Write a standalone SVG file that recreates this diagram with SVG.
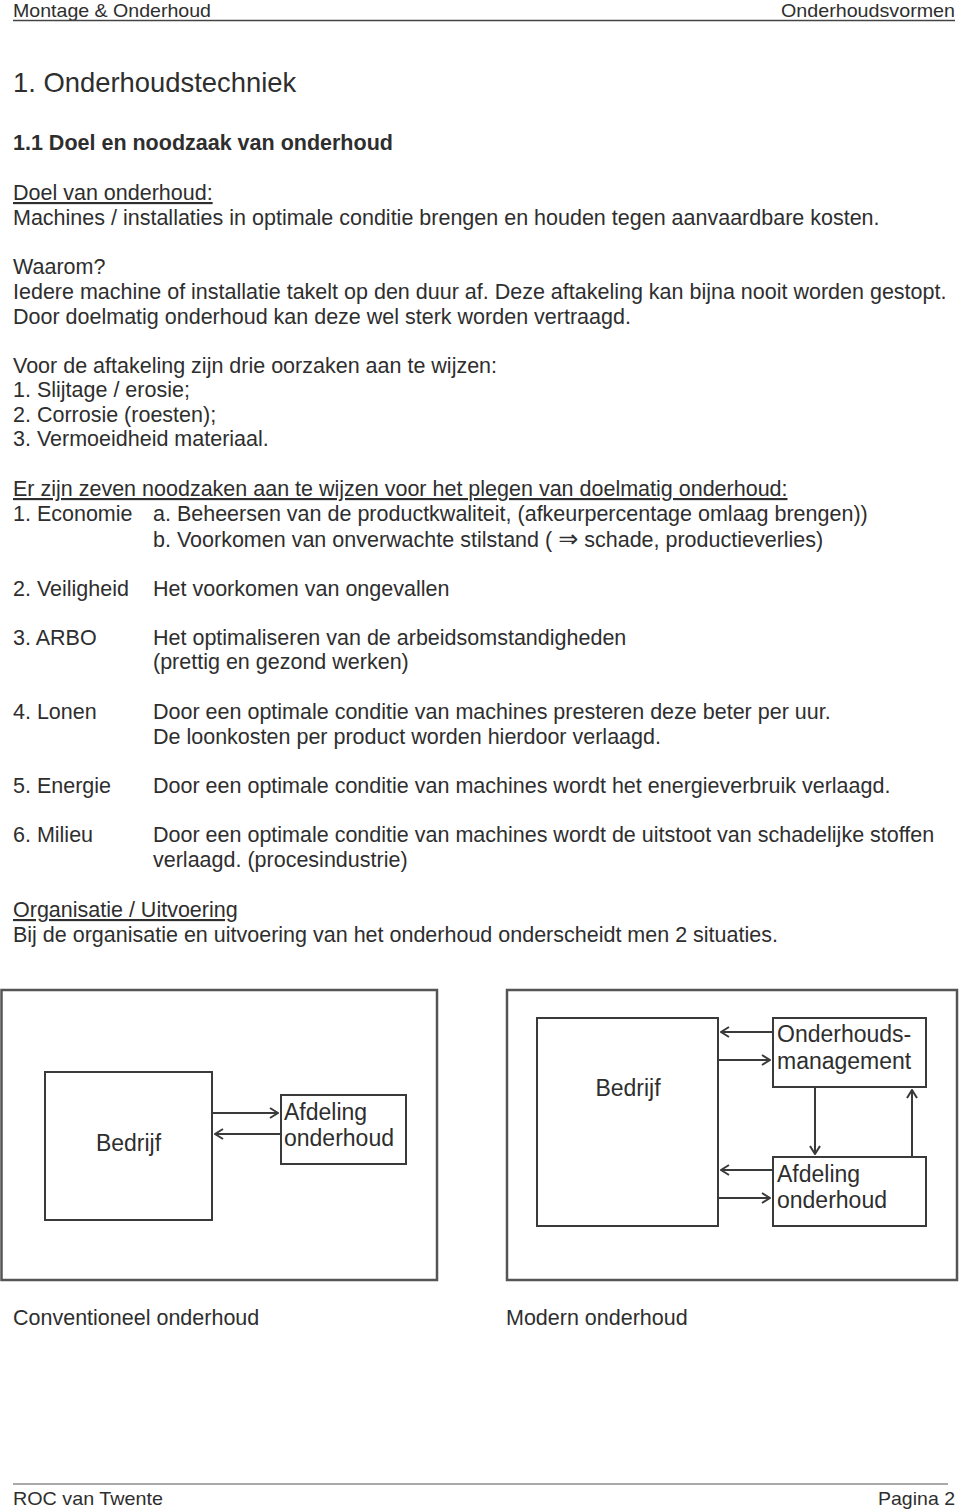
<svg xmlns="http://www.w3.org/2000/svg" width="960" height="1511" viewBox="0 0 960 1511">
<style>
text{font-family:"Liberation Sans",Arial,"DejaVu Sans",sans-serif;fill:#2e2e2e}
.b{font-size:21.5px}
.hd{font-size:19px}
.u{text-decoration:underline}
.d{font-size:23px}
.box{fill:none;stroke:#3a3a3a;stroke-width:2}
.frame{fill:none;stroke:#555;stroke-width:2.5}
.c{fill:none;stroke:#3a3a3a;stroke-width:2;marker-end:url(#ah)}
</style>
<defs>
<marker id="ah" viewBox="0 0 12 12" refX="11" refY="6" markerWidth="12" markerHeight="12" markerUnits="userSpaceOnUse" orient="auto">
<path d="M3,1 L11,6 L3,11" fill="none" stroke="#3a3a3a" stroke-width="2"/>
</marker>
</defs>
<rect width="960" height="1511" fill="#fff"/>
<g id="header">
<text class="hd" x="13" y="17" textLength="198" lengthAdjust="spacingAndGlyphs">Montage &amp; Onderhoud</text>
<text class="hd" x="955" y="17" text-anchor="end" textLength="174" lengthAdjust="spacingAndGlyphs">Onderhoudsvormen</text>
<line x1="13" y1="20.5" x2="955" y2="20.5" stroke="#444" stroke-width="1.5"/>
</g>
<g id="body">
<text x="13" y="92" style="font-size:27.4px">1. Onderhoudstechniek</text>
<text class="b" x="13" y="150" font-weight="bold">1.1 Doel en noodzaak van onderhoud</text>
<text class="b u" x="13" y="200">Doel van onderhoud:</text>
<text class="b" x="13" y="225">Machines / installaties in optimale conditie brengen en houden tegen aanvaardbare kosten.</text>
<text class="b" x="13" y="274">Waarom?</text>
<text class="b" x="13" y="299">Iedere machine of installatie takelt op den duur af. Deze aftakeling kan bijna nooit worden gestopt.</text>
<text class="b" x="13" y="324">Door doelmatig onderhoud kan deze wel sterk worden vertraagd.</text>
<text class="b" x="13" y="373">Voor de aftakeling zijn drie oorzaken aan te wijzen:</text>
<text class="b" x="13" y="397">1. Slijtage / erosie;</text>
<text class="b" x="13" y="422">2. Corrosie (roesten);</text>
<text class="b" x="13" y="446">3. Vermoeidheid materiaal.</text>
<text class="b u" x="13" y="496">Er zijn zeven noodzaken aan te wijzen voor het plegen van doelmatig onderhoud:</text>
<text class="b" x="13" y="521">1. Economie</text>
<text class="b" x="153" y="521">a. Beheersen van de productkwaliteit, (afkeurpercentage omlaag brengen))</text>
<text class="b" x="153" y="547">b. Voorkomen van onverwachte stilstand ( <tspan font-family="DejaVu Sans" font-size="24px">⇒</tspan> schade, productieverlies)</text>
<text class="b" x="13" y="596">2. Veiligheid</text>
<text class="b" x="153" y="596">Het voorkomen van ongevallen</text>
<text class="b" x="13" y="645">3. ARBO</text>
<text class="b" x="153" y="645">Het optimaliseren van de arbeidsomstandigheden</text>
<text class="b" x="153" y="669">(prettig en gezond werken)</text>
<text class="b" x="13" y="719">4. Lonen</text>
<text class="b" x="153" y="719">Door een optimale conditie van machines presteren deze beter per uur.</text>
<text class="b" x="153" y="744">De loonkosten per product worden hierdoor verlaagd.</text>
<text class="b" x="13" y="793">5. Energie</text>
<text class="b" x="153" y="793">Door een optimale conditie van machines wordt het energieverbruik verlaagd.</text>
<text class="b" x="13" y="842">6. Milieu</text>
<text class="b" x="153" y="842">Door een optimale conditie van machines wordt de uitstoot van schadelijke stoffen</text>
<text class="b" x="153" y="867">verlaagd. (procesindustrie)</text>
<text class="b u" x="13" y="917">Organisatie / Uitvoering</text>
<text class="b" x="13" y="942">Bij de organisatie en uitvoering van het onderhoud onderscheidt men 2 situaties.</text>
</g>
<g id="frame-conventioneel">
<rect class="frame" x="1.5" y="990" width="435.5" height="290"/>
</g>
<g id="frame-modern">
<rect class="frame" x="507" y="990" width="450" height="290"/>
</g>
<g id="conv-bedrijf">
<rect class="box" x="45" y="1072" width="167" height="148"/>
<text class="d" x="128.5" y="1151" text-anchor="middle">Bedrijf</text>
</g>
<g id="conv-afdeling">
<rect class="box" x="281" y="1095" width="125" height="69"/>
<text class="d" x="284" y="1120">Afdeling</text>
<text class="d" x="284" y="1146">onderhoud</text>
</g>
<g id="mod-bedrijf">
<rect class="box" x="537" y="1018" width="181" height="208"/>
<text class="d" x="628" y="1096" text-anchor="middle">Bedrijf</text>
</g>
<g id="mod-management">
<rect class="box" x="773" y="1018" width="153" height="69"/>
<text class="d" x="777" y="1042">Onderhouds-</text>
<text class="d" x="777" y="1069">management</text>
</g>
<g id="mod-afdeling">
<rect class="box" x="773" y="1157" width="153" height="69"/>
<text class="d" x="777" y="1182">Afdeling</text>
<text class="d" x="777" y="1208">onderhoud</text>
</g>
<g id="connectors">
<line class="c" x1="212" y1="1113" x2="278" y2="1113"/>
<line class="c" x1="281" y1="1134" x2="215" y2="1134"/>
<line class="c" x1="773" y1="1032" x2="721" y2="1032"/>
<line class="c" x1="718" y1="1060" x2="770" y2="1060"/>
<line class="c" x1="773" y1="1170" x2="721" y2="1170"/>
<line class="c" x1="718" y1="1198" x2="770" y2="1198"/>
<line class="c" x1="815" y1="1087" x2="815" y2="1154"/>
<line class="c" x1="912" y1="1157" x2="912" y2="1090"/>
</g>
<g id="captions">
<text class="b" x="13" y="1325">Conventioneel onderhoud</text>
<text class="b" x="506" y="1325">Modern onderhoud</text>
</g>
<g id="footer">
<line x1="13" y1="1484" x2="948" y2="1484" stroke="#555" stroke-width="1"/>
<text class="hd" x="13" y="1505" textLength="150" lengthAdjust="spacingAndGlyphs">ROC van Twente</text>
<text class="hd" x="955" y="1505" text-anchor="end" textLength="77" lengthAdjust="spacingAndGlyphs">Pagina 2</text>
</g>
</svg>
